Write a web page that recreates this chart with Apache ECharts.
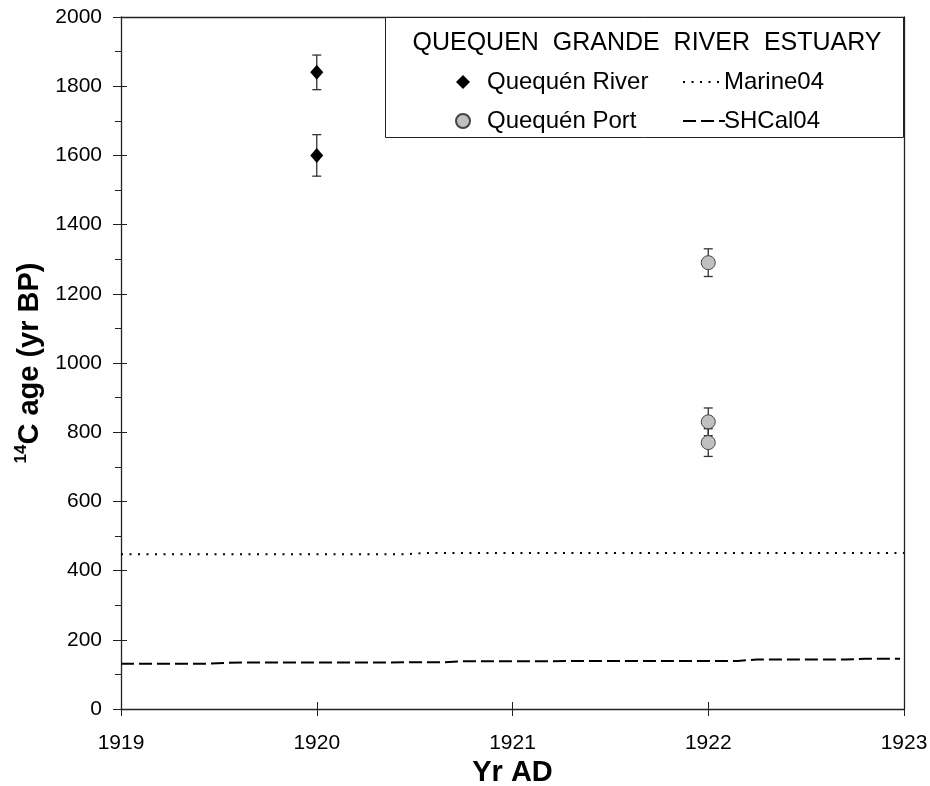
<!DOCTYPE html>
<html><head><meta charset="utf-8">
<script src="https://cdn.jsdelivr.net/npm/echarts@6/dist/echarts.min.js"></script>
<style>html,body{margin:0;padding:0;background:#fff}#c{width:930px;height:786px}</style>
</head><body><div id="c"></div>
<script>
// data
const riverYear = [1920, 1920];
const riverAge = [1840, 1600];
const riverErr = [50, 60];
const portYear = [1922, 1922, 1922];
const portAge = [1290, 830, 770];
const portErr = [40, 40, 40];
const marineYear = [1919, 1920.45, 1920.55, 1923];
const marineAge = [447, 447, 451, 451];
const shcalYear = [1919, 1919.45, 1919.55, 1920.65, 1920.75, 1922.15, 1922.25, 1922.7, 1922.8, 1922.98];
const shcalAge = [131, 131, 134, 135, 138, 139, 143, 143, 145, 145];
const xTicks = [1919, 1920, 1921, 1922, 1923];
const yTicks = [0, 200, 400, 600, 800, 1000, 1200, 1400, 1600, 1800, 2000];

const FONT = '"Liberation Sans", Arial, sans-serif';
const zip = (a, b) => a.map((v, i) => [v, b[i]]);
const errData = zip(riverYear, riverAge).map((p, i) => [p[0], p[1] - riverErr[i], p[1] + riverErr[i]])
  .concat(zip(portYear, portAge).map((p, i) => [p[0], p[1] - portErr[i], p[1] + portErr[i]]));

const chart = echarts.init(document.getElementById('c'), null, {renderer: 'canvas'});
const grid = {left: 121, right: 26, top: 17, bottom: 77, outerBoundsMode: 'none', containLabel: false};
const xBase = {type: 'value', min: xTicks[0], max: xTicks[xTicks.length - 1], interval: 1, gridIndex: 0};
const yBase = {type: 'value', min: yTicks[0], max: yTicks[yTicks.length - 1], interval: 200, gridIndex: 0};
const plain = v => String(v);
chart.setOption({
  animation: false,
  backgroundColor: '#fff',
  grid: grid,
  title: {
    text: 'QUEQUEN  GRANDE  RIVER  ESTUARY',
    left: 642, top: 26, textAlign: 'center',
    textStyle: {fontFamily: FONT, fontSize: 25, fontWeight: 'normal', color: '#000'}
  },
  legend: [{
    data: ['Quequén River', 'Quequén Port'],
    orient: 'vertical', left: 450, top: 65, itemGap: 15,
    itemWidth: 14, itemHeight: 14,
    textStyle: {fontFamily: FONT, fontSize: 24, color: '#000', padding: [0, 0, 0, 12]}
  }, {
    data: [{name: 'Marine04', itemStyle: {opacity: 0}}, {name: 'SHCal04', itemStyle: {opacity: 0}}],
    orient: 'vertical', left: 677, top: 65, itemGap: 15,
    itemWidth: 42, itemHeight: 14,
    lineStyle: {width: 2},
    textStyle: {fontFamily: FONT, fontSize: 24, color: '#000', padding: [0, 0, 0, -6]}
  }],
  graphic: [{
    type: 'rect', z: 1,
    shape: {x: 385.5, y: 17.5, width: 518, height: 120},
    style: {fill: '#fff', stroke: '#222', lineWidth: 1}
  }],
  xAxis: [
    Object.assign({}, xBase, {
      position: 'bottom',
      name: 'Yr AD', nameLocation: 'middle', nameGap: 48,
      nameTextStyle: {fontFamily: FONT, fontSize: 29, fontWeight: 'bold', color: '#000'},
      axisLine: {show: true, onZero: false, lineStyle: {color: '#222', width: 1.3}},
      axisTick: {show: true, inside: false, length: 7, lineStyle: {color: '#222'}},
      axisLabel: {fontFamily: FONT, fontSize: 21, color: '#000', margin: 24, formatter: plain},
      splitLine: {show: false}
    }),
    Object.assign({}, xBase, {
      position: 'bottom',
      axisLine: {show: false, onZero: false},
      axisTick: {show: true, inside: true, length: 7, lineStyle: {color: '#222'}},
      axisLabel: {show: false}, splitLine: {show: false}
    }),
    Object.assign({}, xBase, {
      position: 'top',
      axisLine: {show: true, onZero: false, lineStyle: {color: '#222', width: 1.3}},
      axisTick: {show: false}, axisLabel: {show: false}, splitLine: {show: false}
    })
  ],
  yAxis: [
    Object.assign({}, yBase, {
      position: 'left',
      name: '{sup|14}{b|C age (yr BP)}', nameLocation: 'middle', nameGap: 72, nameRotate: 90,
      nameTextStyle: {
        fontFamily: FONT, fontWeight: 'bold', color: '#000',
        rich: {
          sup: {fontFamily: FONT, fontSize: 17, fontWeight: 'bold', color: '#000', verticalAlign: 'top', lineHeight: 34},
          b: {fontFamily: FONT, fontSize: 29, fontWeight: 'bold', color: '#000', lineHeight: 34}
        }
      },
      axisLine: {show: true, onZero: false, lineStyle: {color: '#222', width: 1.3}},
      axisTick: {show: true, inside: false, length: 8, lineStyle: {color: '#222'}},
      minorTick: {show: true, splitNumber: 2, length: 6, lineStyle: {color: '#222'}},
      axisLabel: {fontFamily: FONT, fontSize: 21, color: '#000', margin: 19, formatter: plain},
      splitLine: {show: false}, minorSplitLine: {show: false}
    }),
    Object.assign({}, yBase, {
      position: 'left',
      axisLine: {show: false, onZero: false},
      axisTick: {show: true, inside: true, length: 6, lineStyle: {color: '#222'}},
      minorTick: {show: false},
      axisLabel: {show: false}, splitLine: {show: false}
    }),
    Object.assign({}, yBase, {
      position: 'right',
      axisLine: {show: true, onZero: false, lineStyle: {color: '#222', width: 1.3}},
      axisTick: {show: false}, axisLabel: {show: false}, splitLine: {show: false}
    })
  ],
  series: [
    {
      name: 'Marine04', type: 'line', xAxisIndex: 0, yAxisIndex: 0,
      data: zip(marineYear, marineAge), showSymbol: false, symbol: 'none',
      lineStyle: {color: '#000', width: 2, type: [2, 6.5]},
      itemStyle: {color: '#000'}, z: 3
    },
    {
      name: 'SHCal04', type: 'line', xAxisIndex: 0, yAxisIndex: 0,
      data: zip(shcalYear, shcalAge), showSymbol: false, symbol: 'none',
      lineStyle: {color: '#000', width: 2, type: [13, 5]},
      itemStyle: {color: '#000'}, z: 3
    },
    {
      name: 'errors', type: 'custom', xAxisIndex: 0, yAxisIndex: 0, z: 4,
      data: errData,
      renderItem: function (params, api) {
        const lo = api.coord([api.value(0), api.value(1)]);
        const hi = api.coord([api.value(0), api.value(2)]);
        const w = 4.5;
        const st = {stroke: '#333', lineWidth: 1.3};
        return {type: 'group', children: [
          {type: 'line', shape: {x1: lo[0], y1: lo[1], x2: hi[0], y2: hi[1]}, style: st},
          {type: 'line', shape: {x1: lo[0] - w, y1: lo[1], x2: lo[0] + w, y2: lo[1]}, style: st},
          {type: 'line', shape: {x1: hi[0] - w, y1: hi[1], x2: hi[0] + w, y2: hi[1]}, style: st}
        ]};
      }
    },
    {
      name: 'Quequén River', type: 'scatter', xAxisIndex: 0, yAxisIndex: 0, z: 5,
      data: zip(riverYear, riverAge), symbol: 'diamond', symbolSize: [13, 15],
      itemStyle: {color: '#000', opacity: 1}
    },
    {
      name: 'Quequén Port', type: 'scatter', xAxisIndex: 0, yAxisIndex: 0, z: 5,
      data: zip(portYear, portAge), symbol: 'circle', symbolSize: 14,
      itemStyle: {color: '#c0c0c0', borderColor: '#444', borderWidth: 1, opacity: 1}
    }
  ]
});
</script>
</body></html>
